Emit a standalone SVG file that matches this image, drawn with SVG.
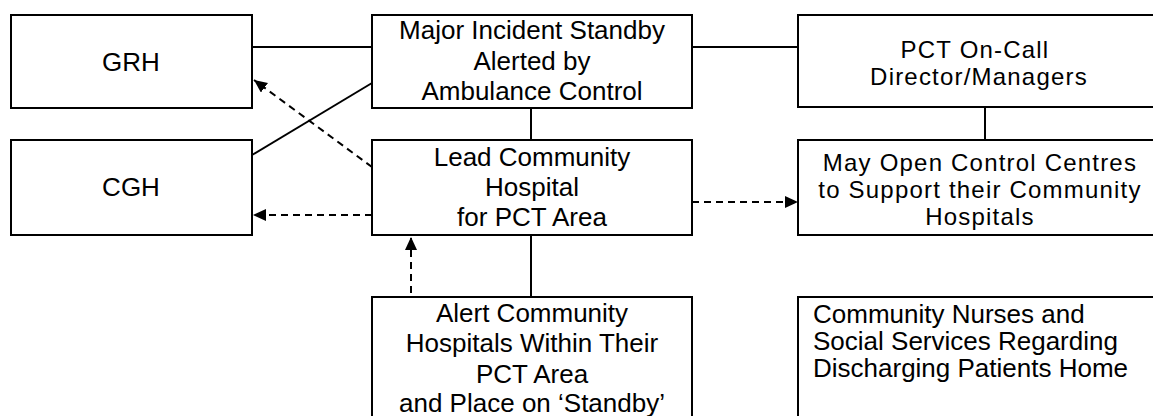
<svg xmlns="http://www.w3.org/2000/svg" width="1153" height="416" viewBox="0 0 1153 416">
<style>
.box{fill:#fff;stroke:#000;stroke-width:2}
.ln{stroke:#000;stroke-width:2;fill:none}
.dash{stroke:#000;stroke-width:2;fill:none;stroke-dasharray:7,5}
text{font-family:"Liberation Sans",Arial,sans-serif;font-size:26px;fill:#000}
.c{text-anchor:middle}
.s{font-size:24px;letter-spacing:1.2px}
</style>
<defs>
<marker id="ah" markerUnits="userSpaceOnUse" markerWidth="14" markerHeight="12" refX="13" refY="6" orient="auto">
<path d="M0,0 L13,6 L0,12 z" fill="#000"/>
</marker>
</defs>
<rect width="1153" height="416" fill="#fff"/>
<g id="connectors">
<line class="ln" x1="252" y1="47" x2="372" y2="47"/>
<line class="ln" x1="692" y1="47" x2="798" y2="47"/>
<line class="ln" x1="252" y1="155" x2="372" y2="83"/>
<line class="ln" x1="531" y1="108" x2="531" y2="140"/>
<line class="ln" x1="985" y1="107" x2="985" y2="140"/>
<line class="ln" x1="531" y1="235" x2="531" y2="297"/>
<line class="dash" x1="372" y1="167" x2="254" y2="80" marker-end="url(#ah)"/>
<line class="dash" x1="372" y1="215" x2="253" y2="215" marker-end="url(#ah)"/>
<line class="dash" x1="692" y1="202" x2="798" y2="202" marker-end="url(#ah)"/>
<line class="dash" x1="411" y1="293" x2="411" y2="237" marker-end="url(#ah)"/>
</g>
<g id="grh">
<rect class="box" x="11" y="15" width="241" height="93"/>
<text class="c" x="131" y="71">GRH</text>
</g>
<g id="cgh">
<rect class="box" x="11" y="140" width="241" height="95"/>
<text class="c" x="131" y="196">CGH</text>
</g>
<g id="major">
<rect class="box" x="372" y="15" width="320" height="93"/>
<text class="c" x="532" y="39">Major Incident Standby</text>
<text class="c" x="532" y="70">Alerted by</text>
<text class="c" x="532" y="100">Ambulance Control</text>
</g>
<g id="lead">
<rect class="box" x="372" y="140" width="320" height="95"/>
<text class="c" x="532" y="166">Lead Community</text>
<text class="c" x="532" y="196">Hospital</text>
<text class="c" x="532" y="226">for PCT Area</text>
</g>
<g id="pct">
<rect class="box" x="798" y="15" width="370" height="92"/>
<text class="c s" x="975" y="58">PCT On-Call</text>
<text class="c s" x="979" y="85">Director/Managers</text>
</g>
<g id="mayopen">
<rect class="box" x="798" y="140" width="370" height="95"/>
<text class="c s" x="980" y="171">May Open Control Centres</text>
<text class="c s" x="980" y="198">to Support their Community</text>
<text class="c s" x="980" y="225">Hospitals</text>
</g>
<g id="alert">
<rect class="box" x="372" y="297" width="320" height="130"/>
<text class="c" x="532" y="322">Alert Community</text>
<text class="c" x="532" y="352">Hospitals Within Their</text>
<text class="c" x="532" y="383">PCT Area</text>
<text class="c" x="532" y="412">and Place on ‘Standby’</text>
</g>
<g id="nurses">
<rect class="box" x="798" y="297" width="370" height="130"/>
<text x="813" y="323">Community Nurses and</text>
<text x="813" y="350">Social Services Regarding</text>
<text x="813" y="377">Discharging Patients Home</text>
</g>
</svg>
